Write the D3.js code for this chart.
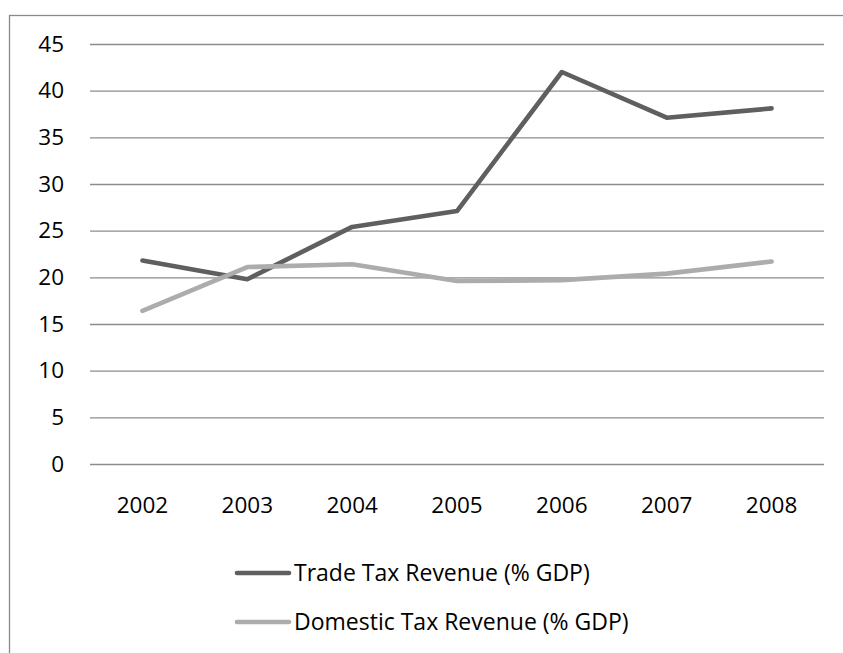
<!DOCTYPE html>
<html><head><meta charset="utf-8">
<script src="https://cdn.jsdelivr.net/npm/d3@7"></script>
<style>html,body{margin:0;padding:0;background:#fff;}svg{display:block;}</style>
</head><body>
<svg id="chart" width="843" height="653"></svg>
<script>
const years = ["2002","2003","2004","2005","2006","2007","2008"];
const tradeTax = [21.8, 19.8, 25.4, 27.1, 42.0, 37.1, 38.1];
const domesticTax = [16.4, 21.1, 21.4, 19.6, 19.7, 20.4, 21.7];
const yTicks = [0,5,10,15,20,25,30,35,40,45];
const seriesNames = ["Trade Tax Revenue (% GDP)", "Domestic Tax Revenue (% GDP)"];
const seriesColors = ["#5f5f5f", "#acacac"];

const svg = d3.select("#chart");
const font = "'Open Sans', Lato, sans-serif";

// outer frame (clipped by window)
svg.append("rect").attr("x",9.5).attr("y",15.5).attr("width",900).attr("height",700)
  .attr("fill","none").attr("stroke","#8a8a8a").attr("stroke-width",1.3);

const x = d3.scaleBand().domain(years).range([90, 824]).padding(0);
const y = d3.scaleLinear().domain([0,45]).range([464, 44]);

// gridlines
const yAxis = d3.axisLeft(y).tickValues(yTicks).tickSize(-(824-90)).tickPadding(26);
const gy = svg.append("g").attr("transform","translate(90,0)").call(yAxis);
gy.select(".domain").remove();
gy.selectAll(".tick line").attr("stroke","#8c8c8c").attr("stroke-width",1.4);
gy.selectAll(".tick text").attr("font-family",font).attr("font-size",22.5).attr("fill","#000");

const xAxis = d3.axisBottom(x).tickSize(0).tickPadding(33);
const gx = svg.append("g").attr("transform","translate(0,464)").call(xAxis);
gx.select(".domain").remove();
gx.selectAll(".tick text").attr("font-family",font).attr("font-size",22.5).attr("fill","#000");

const line = d3.line().x((d,i)=>x(years[i]) + x.bandwidth()/2).y(d=>y(d));
[tradeTax, domesticTax].forEach((s,k)=>{
  svg.append("path").datum(s).attr("d", line).attr("fill","none")
    .attr("stroke", seriesColors[k]).attr("stroke-width",4.6)
    .attr("stroke-linejoin","round").attr("stroke-linecap","round");
});

// legend
const legY = [573, 622];
seriesNames.forEach((n,k)=>{
  svg.append("line").attr("x1",237).attr("x2",289).attr("y1",legY[k]).attr("y2",legY[k])
    .attr("stroke",seriesColors[k]).attr("stroke-width",4.6).attr("stroke-linecap","round");
  svg.append("text").attr("x",294).attr("y",legY[k]).attr("dy","0.35em")
    .attr("font-family",font).attr("font-size",23).attr("fill","#000").text(n);
});
</script>
</body></html>
